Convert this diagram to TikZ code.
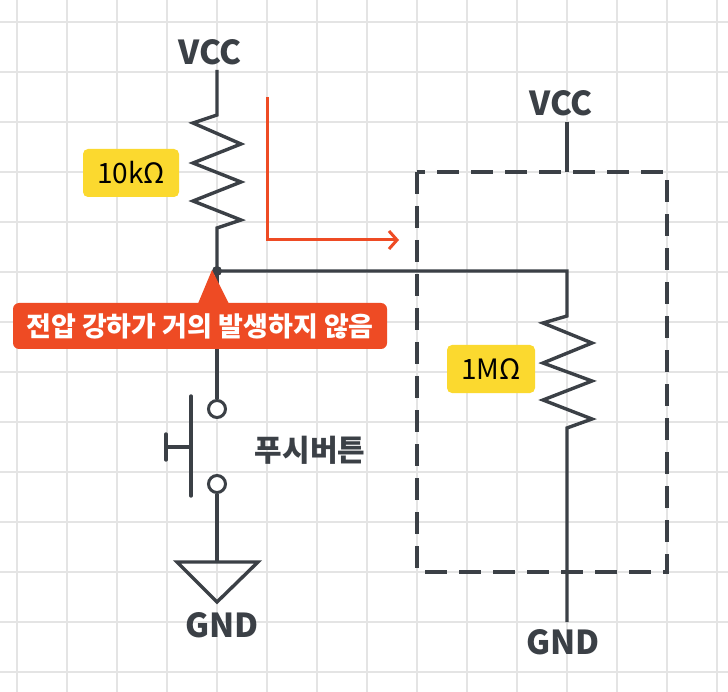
\documentclass[tikz,border=0pt]{standalone}
\usepackage{fontspec}
\setmainfont{Noto Sans CJK KR}
\usetikzlibrary{arrows.meta}
\definecolor{wire}{HTML}{3B4046}
\definecolor{hot}{HTML}{EE4B24}
\definecolor{tag}{HTML}{FBD92F}
\definecolor{grid}{HTML}{E4E4E4}
\begin{document}
\begin{tikzpicture}[x=1pt,y=-1pt,
  w/.style={draw=wire,line width=3.4pt,line join=miter},
  lbl/.style={text=wire,font=\bfseries\fontsize{33}{33}\selectfont,inner sep=0pt},
  val/.style={fill=tag,rounded corners=5pt,font=\fontsize{28}{28}\selectfont,inner xsep=0pt,inner ysep=0pt,minimum height=48pt,text=black},
  term/.style={circle,draw=wire,line width=3pt,fill=white,minimum size=17pt,inner sep=0pt}]
\fill[white] (0,0) rectangle (728,692);
\useasboundingbox (0,0) rectangle (728,692);
\foreach \i in {0,...,14} {\draw[grid,line width=1.3pt] (17+50*\i,0) -- (17+50*\i,692);}
\foreach \j in {0,...,13} {\draw[grid,line width=1.3pt] (0,22+50*\j) -- (728,22+50*\j);}
% left branch
\node[lbl] (vcc1) at (210,52) {VCC};
\coordinate (r1t) at (217,70);
\coordinate (n) at (217,271);
\draw[w] (r1t) -- (217,115) -- (193,123) -- (241,144) -- (193,163) -- (241,182) -- (193,201) -- (241,220) -- (217,228) -- (n);
\node[val,minimum width=96pt] (v1) at (131,173) {10kΩ};
% dashed box
\draw[w,dash pattern=on 22pt off 12pt] (417,172) rectangle (667,572);
\node[lbl] (vcc2) at (561,103) {VCC};
\coordinate (v2b) at (567,122);
\coordinate (v2e) at (567,172);
\draw[w] (v2b) -- (v2e);
% right branch
\coordinate (gnd2t) at (567,622);
\draw[w] (n) -- (567,271) -- (567,316) -- (543,323) -- (592,343) -- (543,363) -- (592,381) -- (543,400) -- (592,419) -- (567,428) -- (gnd2t);
\node[lbl] (gnd2) at (563,642) {GND};
\node[val,minimum width=88pt] (v2) at (491,369) {1MΩ};
% button
\node[term] (t1) at (217,409) {};
\node[term] (t2) at (217,484) {};
\draw[w] (n) -- (t1);
\draw[w,line cap=round] (191,396) -- (191,496);
\draw[w,line cap=round] (191,447) -- (166,447);
\draw[w,line cap=round] (166,434) -- (166,460);
\node[text=wire,font=\bfseries\fontsize{30}{30}\selectfont] (pb) at (310,450) {푸시버튼};
\coordinate (gt) at (217,562);
\draw[w] (t2) -- (gt);
\draw[w] (177,562) -- (258,562) -- (217,602) -- cycle;
\node[lbl] (gnd1) at (222,625) {GND};
\fill[wire] (n) circle (5pt);
% red arrow
\coordinate (a0) at (267,97);
\coordinate (a1) at (399,240);
\draw[hot,line width=3pt,-{Straight Barb[length=8pt,width=18pt,line width=3pt]}] (a0) |- (a1);
% callout
\fill[hot] (212,270) -- (197,306) -- (230,306) -- cycle;
\node[fill=hot,rounded corners=6pt,text=white,font=\bfseries\fontsize{27}{27}\selectfont,minimum width=374pt,minimum height=46pt,inner sep=0pt] (call) at (200,326) {전압 강하가 거의 발생하지 않음};
\end{tikzpicture}
\end{document}
